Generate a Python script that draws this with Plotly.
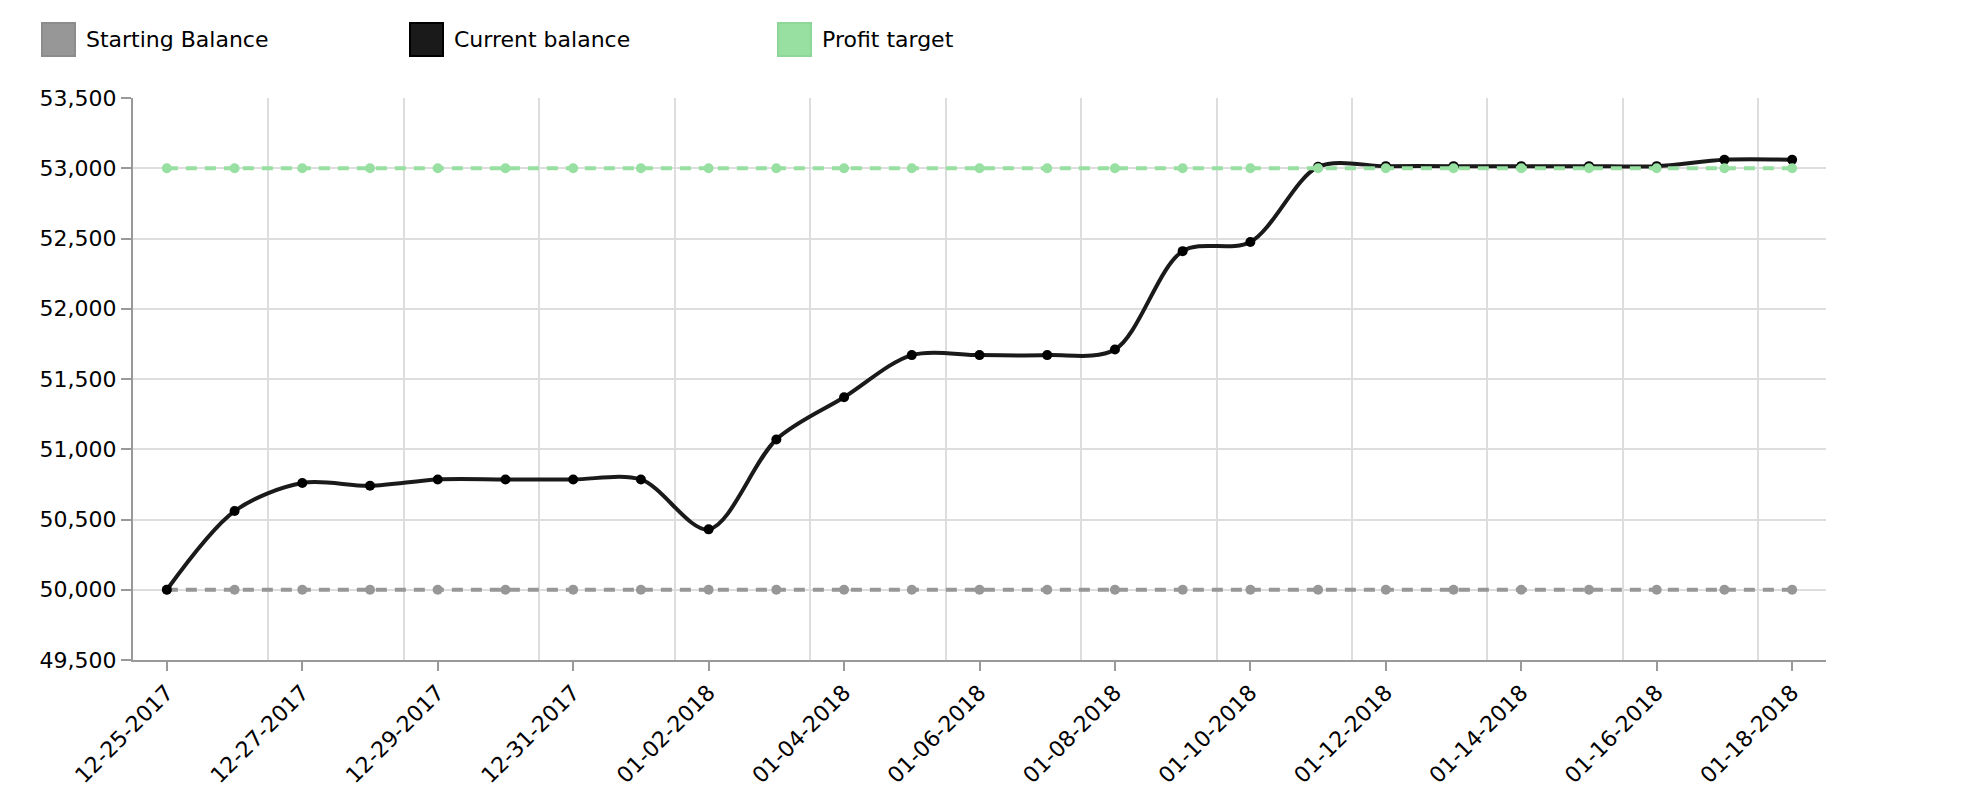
import plotly.graph_objects as go

# %%
dates = [
    "2017-12-25", "2017-12-26", "2017-12-27", "2017-12-28", "2017-12-29",
    "2017-12-30", "2017-12-31", "2018-01-01", "2018-01-02", "2018-01-03",
    "2018-01-04", "2018-01-05", "2018-01-06", "2018-01-07", "2018-01-08",
    "2018-01-09", "2018-01-10", "2018-01-11", "2018-01-12", "2018-01-13",
    "2018-01-14", "2018-01-15", "2018-01-16", "2018-01-17", "2018-01-18",
]
starting_balance = [50000] * 25
current_balance = [
    50000, 50560, 50760, 50740, 50785,
    50785, 50785, 50785, 50430, 51070,
    51370, 51670, 51670, 51670, 51710,
    52410, 52475, 53010, 53015, 53015,
    53015, 53015, 53015, 53060, 53060,
]
profit_target = [53000] * 25

names = ["Starting Balance", "Current balance", "Profit target"]
colors = ["#979797", "#1a1a1a", "#97e0a1"]
borders = ["#8c8c8c", "#000000", "#8fd699"]

FONT = "DejaVu Sans"
# page has an 8px body margin, so the figure is a bit smaller than the window
OFF = 8
W, H = 1986 - OFF, 800 - OFF
L, R, T, B = 125, 160, 90, 140
PW, PH = W - L - R, H - T - B


def px(x):
    # page x pixel -> paper fraction
    return (x - OFF - L) / PW


def py(y):
    # page y pixel -> paper fraction
    return (H - B - (y - OFF)) / PH


# %%
fig = go.Figure()
fig.add_trace(go.Scatter(
    x=dates, y=starting_balance, name=names[0], mode="lines+markers",
    line=dict(color=colors[0], width=4, dash="11px,8px"),
    marker=dict(size=10, color=colors[0]),
))
fig.add_trace(go.Scatter(
    x=dates, y=current_balance, name=names[1], mode="lines+markers",
    line=dict(color=colors[1], width=4, shape="spline", smoothing=0.9),
    marker=dict(size=10, color="#000000"),
))
fig.add_trace(go.Scatter(
    x=dates, y=profit_target, name=names[2], mode="lines+markers",
    line=dict(color=colors[2], width=4, dash="11px,8px"),
    marker=dict(size=10, color=colors[2]),
))

# legend drawn by hand, big square swatches
for i, nm in enumerate(names):
    dx = 368 * i
    fig.add_shape(
        type="rect", xref="paper", yref="paper",
        x0=px(42 + dx), x1=px(75 + dx), y0=py(56), y1=py(23),
        fillcolor=colors[i], line=dict(color=borders[i], width=2),
    )
    fig.add_annotation(
        x=px(84 + dx), y=py(39.5),
        xref="paper", yref="paper", text=nm, showarrow=False,
        xanchor="left", yanchor="middle",
        font=dict(family=FONT, size=22, color="#000000"),
    )

fig.update_layout(
    width=W, height=H,
    margin=dict(l=L, r=R, t=T, b=B),
    paper_bgcolor="white", plot_bgcolor="white",
    showlegend=False,
    font=dict(family=FONT, size=22, color="#000000"),
)
fig.update_xaxes(
    type="date",
    range=["2017-12-24 12:00", "2018-01-18 12:00"],
    tick0="2017-12-25", dtick=2 * 86400000,
    tickformat="%m-%d-%Y", tickangle=-45,
    ticks="outside", ticklen=9, tickcolor="#999999", tickwidth=2,
    showline=True, linecolor="#999999", linewidth=2,
    showgrid=False, zeroline=False,
    minor=dict(
        tick0="2017-12-24 12:00", dtick=2 * 86400000,
        showgrid=True, gridcolor="#dddddd", gridwidth=1.5, ticks="",
    ),
)
fig.update_yaxes(
    range=[49500, 53500], dtick=500, tickformat=",d",
    ticks="outside", ticklen=10, tickcolor="#999999", tickwidth=2,
    showline=True, linecolor="#999999", linewidth=2,
    showgrid=True, gridcolor="#dddddd", gridwidth=1.5, zeroline=False,
)

fig.write_html("out.html")
